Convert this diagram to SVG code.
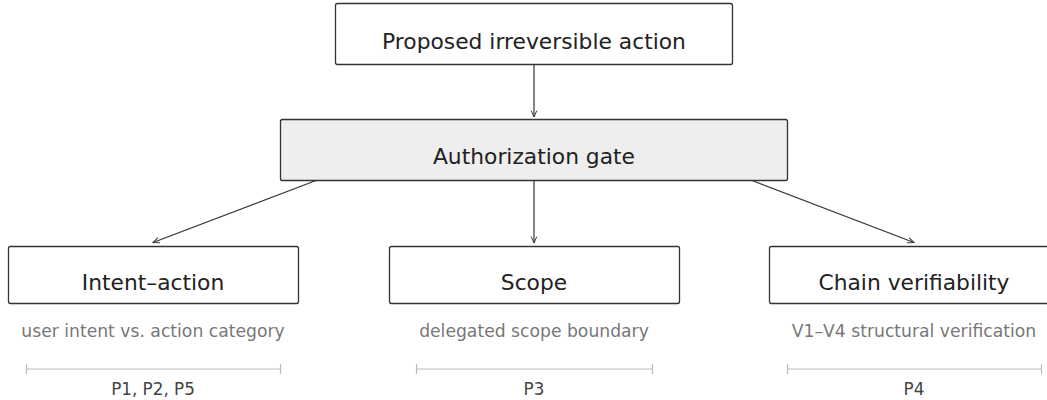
<svg xmlns="http://www.w3.org/2000/svg" width="1047" height="400" viewBox="0 0 1047 400">
<defs>
<marker id="ah" viewBox="0 0 10 10" refX="9" refY="5" markerWidth="8" markerHeight="8" orient="auto" markerUnits="userSpaceOnUse">
<path d="M1,1.5 L9,5 L1,8.5" fill="none" stroke="#333" stroke-width="1.2"/>
</marker>
</defs>
<style>
.box{fill:#fff;stroke:#333;stroke-width:1.3}
.gate{fill:#eeeeee;stroke:#333;stroke-width:1.3}
.t{font-family:"DejaVu Sans",sans-serif;font-size:21.8px;fill:#222;text-anchor:middle}
.sub{font-family:"DejaVu Sans",sans-serif;font-size:17.2px;fill:#777;text-anchor:middle}
.p{font-family:"DejaVu Sans",sans-serif;font-size:16.8px;fill:#444;text-anchor:middle}
.rng{stroke:#bbb;stroke-width:1.2;fill:none}
.c{stroke:#333;stroke-width:1.2;fill:none;marker-end:url(#ah)}
</style>
<g id="connectors">
<line class="c" x1="534" y1="64" x2="534" y2="117"/>
<line class="c" x1="316" y1="180.5" x2="153" y2="242.5"/>
<line class="c" x1="534" y1="180.5" x2="534" y2="243"/>
<line class="c" x1="752" y1="180.5" x2="914" y2="242.5"/>
</g>
<g id="node-proposed">
<rect class="box" x="335.5" y="3.5" width="397" height="61" rx="2"/>
<text class="t" x="534" y="49">Proposed irreversible action</text>
</g>
<g id="node-gate">
<rect class="gate" x="280.5" y="119.5" width="507" height="61" rx="2"/>
<text class="t" x="534" y="164">Authorization gate</text>
</g>
<g id="node-intent">
<rect class="box" x="8.5" y="246.5" width="290" height="57" rx="2"/>
<text class="t" x="153" y="290">Intent–action</text>
<text class="sub" x="153" y="337">user intent vs. action category</text>
<path class="rng" d="M26.5,364 V374 M26.5,369 H280.5 M280.5,364 V374"/>
<text class="p" x="153" y="395">P1, P2, P5</text>
</g>
<g id="node-scope">
<rect class="box" x="389.5" y="246.5" width="290" height="57" rx="2"/>
<text class="t" x="534" y="290">Scope</text>
<text class="sub" x="534" y="337">delegated scope boundary</text>
<path class="rng" d="M416.5,364 V374 M416.5,369 H652.5 M652.5,364 V374"/>
<text class="p" x="534" y="395">P3</text>
</g>
<g id="node-chain">
<rect class="box" x="769.5" y="246.5" width="290" height="57" rx="2"/>
<text class="t" x="914" y="290">Chain verifiability</text>
<text class="sub" x="914" y="337">V1–V4 structural verification</text>
<path class="rng" d="M787.5,364 V374 M787.5,369 H1041.5 M1041.5,364 V374"/>
<text class="p" x="914" y="395">P4</text>
</g>
</svg>
